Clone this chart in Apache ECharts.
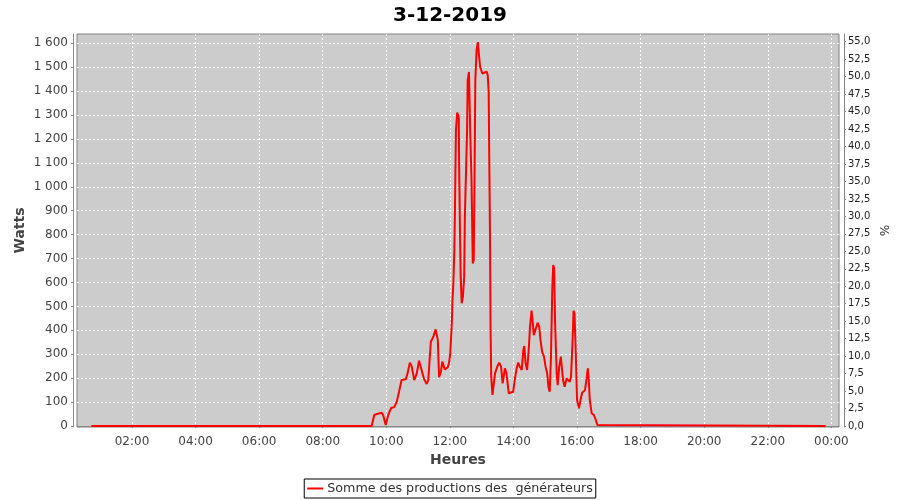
<!DOCTYPE html>
<html><head><meta charset="utf-8">
<script src="https://cdn.jsdelivr.net/npm/echarts@6/dist/echarts.min.js"></script>
<style>html,body{margin:0;padding:0;background:#fff}#c{width:900px;height:500px}</style>
</head><body><div id="c"></div>
<script>
const chartTitle = '3-12-2019';
const seriesName = 'Somme des productions des  générateurs';
const xName = 'Heures';
const leftName = 'Watts';
const rightName = '%';

// time of day in decimal hours
const hours = [0.72,9.54,9.62,9.71,9.86,9.91,9.98,10.06,10.15,10.25,10.33,10.40,10.48,10.61,10.67,10.74,10.80,10.88,10.96,11.03,11.11,11.19,11.27,11.32,11.40,11.48,11.55,11.62,11.66,11.72,11.76,11.84,11.93,11.97,12.01,12.06,12.08,12.11,12.14,12.16,12.19,12.23,12.28,12.29,12.32,12.34,12.37,12.41,12.45,12.47,12.54,12.56,12.60,12.64,12.68,12.72,12.75,12.77,12.80,12.84,12.88,12.91,12.95,13.02,13.08,13.16,13.19,13.22,13.24,13.26,13.28,13.30,13.34,13.39,13.42,13.49,13.55,13.61,13.66,13.73,13.78,13.85,13.91,13.99,14.04,14.10,14.15,14.20,14.26,14.31,14.34,14.38,14.43,14.48,14.52,14.57,14.60,14.64,14.70,14.76,14.81,14.85,14.90,14.96,15.01,15.06,15.10,15.14,15.18,15.22,15.25,15.28,15.31,15.36,15.39,15.44,15.49,15.53,15.56,15.61,15.67,15.73,15.77,15.81,15.86,15.89,15.92,15.96,16.00,16.06,16.11,16.16,16.21,16.25,16.30,16.34,16.37,16.40,16.46,16.53,16.59,16.64,16.68,23.82];
const watts = [0,0,46,50,55,42,4,46,75,79,102,143,192,195,221,265,248,192,221,273,234,195,176,192,352,373,404,360,204,227,269,237,245,262,300,429,520,600,736,910,1237,1310,1290,1098,791,624,513,541,624,868,1237,1446,1480,1224,1028,680,694,959,1446,1572,1605,1558,1502,1474,1467,1481,1467,1397,1098,819,401,206,130,137,220,248,265,248,178,241,220,137,134,143,192,241,265,248,234,318,334,262,234,318,415,482,443,380,388,432,415,360,311,290,248,220,164,143,290,569,673,659,429,220,171,248,290,283,192,164,199,192,185,206,360,482,471,304,109,74,109,139,137,150,199,241,192,109,53,46,25,4,0,0];

const xTicks = [2,4,6,8,10,12,14,16,18,20,22,24];
const wattTicks = [0,100,200,300,400,500,600,700,800,900,1000,1100,1200,1300,1400,1500,1600];
const pctTicks = [0,2.5,5,7.5,10,12.5,15,17.5,20,22.5,25,27.5,30,32.5,35,37.5,40,42.5,45,47.5,50,52.5,55];

const points = hours.map((h, i) => [h, watts[i]]);
const FONT = 'DejaVu Sans';
const grid = '#ffffff';

const chart = echarts.init(document.getElementById('c'), null, {renderer: 'canvas'});
chart.setOption({
  animation: false,
  backgroundColor: '#ffffff',
  title: {
    text: chartTitle, left: 'center', top: 1,
    textStyle: {fontFamily: FONT, fontSize: 20, fontWeight: 'bold', color: '#000'}
  },
  legend: {
    data: [seriesName], bottom: 2, left: 'center',
    borderColor: '#000', borderWidth: 1, borderRadius: 0,
    padding: [3, 3], icon: 'rect', itemWidth: 16, itemHeight: 2, itemGap: 4,
    textStyle: {fontFamily: FONT, fontSize: 12.7, color: '#333', padding: [0, 0, 0, -1]}
  },
  grid: {
    left: 77, right: 61, top: 34, bottom: 73,
    show: true, backgroundColor: '#cccccc', borderColor: '#808080', borderWidth: 1
  },
  xAxis: {
    type: 'value', min: 0.27, max: 24.24, offset: 4,
    name: xName, nameLocation: 'middle', nameGap: 22,
    nameTextStyle: {fontFamily: FONT, fontSize: 14, fontWeight: 'bold', color: '#444'},
    axisLine: {show: true, lineStyle: {color: '#888'}},
    axisTick: {show: true, length: 2, customValues: xTicks, lineStyle: {color: '#888'}},
    axisLabel: {customValues: xTicks, margin: 5, fontFamily: FONT, fontSize: 12, color: '#444',
      formatter: v => String(Math.round(v) % 24).padStart(2, '0') + ':00'},
    splitLine: {show: true, lineStyle: {color: grid, type: [2, 2], width: 1}}
  },
  yAxis: [{
    type: 'value', position: 'left', min: -4.2, max: 1639, offset: 4,
    name: leftName, nameLocation: 'middle', nameGap: 46, nameMoveOverlap: false,
    nameTextStyle: {fontFamily: FONT, fontSize: 14, fontWeight: 'bold', color: '#444'},
    axisLine: {show: true, lineStyle: {color: '#888'}},
    axisTick: {show: true, length: 2, customValues: wattTicks, lineStyle: {color: '#888'}},
    axisLabel: {customValues: wattTicks, margin: 5, fontFamily: FONT, fontSize: 12, color: '#444',
      formatter: v => v >= 1000 ? Math.floor(v / 1000) + ' ' + String(v % 1000).padStart(3, '0') : String(v)},
    splitLine: {show: true, lineStyle: {color: grid, type: [2, 2], width: 1}}
  }, {
    type: 'value', position: 'right', min: -0.14, max: 56.1, offset: 5,
    name: rightName, nameLocation: 'middle', nameGap: 33, nameRotate: -90, nameMoveOverlap: false,
    nameTextStyle: {fontFamily: FONT, fontSize: 12, color: '#333'},
    axisLine: {show: true, lineStyle: {color: '#888'}},
    axisTick: {show: true, length: 2, customValues: pctTicks, lineStyle: {color: '#888'}},
    axisLabel: {customValues: pctTicks, margin: 4, fontFamily: FONT, fontSize: 10, color: '#222',
      formatter: v => v.toFixed(1).replace('.', ',')},
    splitLine: {show: false}
  }],
  series: [{
    name: seriesName, type: 'line', yAxisIndex: 0, data: points,
    symbol: 'none', lineStyle: {color: '#ff0000', width: 2}, itemStyle: {color: '#ff0000'}
  }]
});
</script></body></html>
